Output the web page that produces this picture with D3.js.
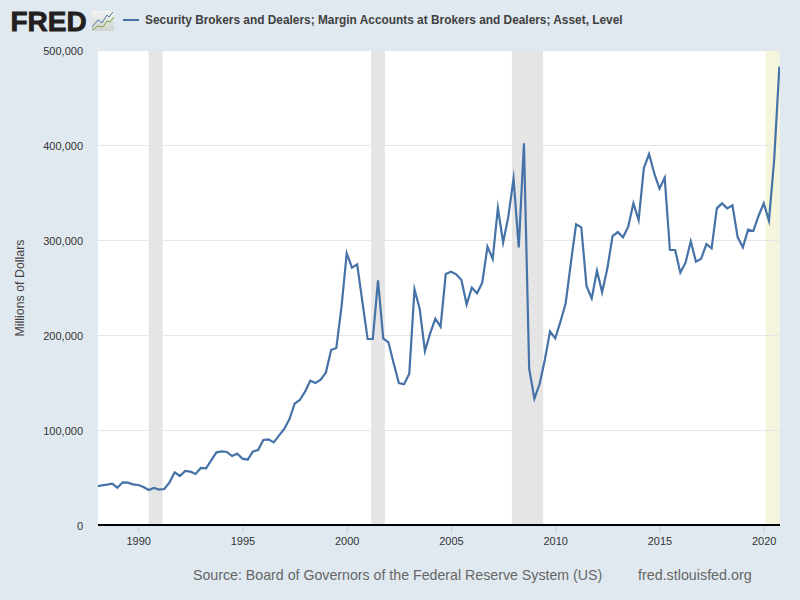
<!DOCTYPE html>
<html><head><meta charset="utf-8">
<script src="https://cdnjs.cloudflare.com/ajax/libs/d3/7.8.5/d3.min.js"></script>
<style>html,body{margin:0;padding:0;background:#e1e9f0}svg{display:block}text{font-family:"Liberation Sans",Arial,sans-serif}</style>
</head><body><svg id="c" width="800" height="600"></svg>
<script>
const firstYear = 1988;
const stepYears = 0.25;
const marginValues = [40700,41750,42450,43500,39300,44900,44560,42800,42100,40000,36840,38950,37190,37900,44900,55440,51580,56840,56140,53680,60000,59650,68070,76490,77540,76840,72630,75090,69820,68770,77540,78950,89470,90180,87020,94030,101050,111230,127720,131580,140350,151930,149470,153000,160500,184200,186300,229800,285950,270870,274380,235080,195780,195780,257540,196490,192280,170170,149470,148070,159290,248070,227360,183150,201750,217190,208770,264200,266660,263850,257890,232280,249820,243860,255080,292970,279990,333670,297180,324550,364550,292280,401750,164550,132980,148420,173680,203860,196490,214000,233330,276000,316480,313320,251570,238590,267710,244900,270170,304200,308410,302800,314030,338590,321040,375780,390520,370170,354030,365610,289470,289470,265610,276130,298590,277190,280340,295780,291220,333330,338590,333330,336480,302800,292280,310870,309460,325260,338590,320340,384200,482450];
const recessionStart = [1990.5, 2001.17, 2007.92];
const recessionEnd = [1991.17, 2001.83, 2009.42];
const covidStart = [2020.08];
const covidEnd = [2020.78];
const yearTicks = [1990,1995,2000,2005,2010,2015,2020];
const valueTicks = [0,100000,200000,300000,400000,500000];
const seriesTitle = "Security Brokers and Dealers; Margin Accounts at Brokers and Dealers; Asset, Level";
const yTitle = "Millions of Dollars";
const sourceText = "Source: Board of Governors of the Federal Reserve System (US)";
const siteText = "fred.stlouisfed.org";

const W=800,H=600,pL=98,pR=780,pT=50,pB=525;
const svg=d3.select("#c");
svg.append("rect").attr("width",W).attr("height",H).attr("fill","#e1e9f0");
svg.append("rect").attr("x",pL).attr("y",pT).attr("width",pR-pL).attr("height",pB-pT).attr("fill","#fff");
const x=d3.scaleLinear().domain([1988.07,2020.78]).range([pL,pR]);
const y=d3.scaleLinear().domain([0,500000]).range([pB,pT]);
const defs=svg.append("defs");
defs.append("clipPath").attr("id","plot").append("rect").attr("x",pL).attr("y",pT-5).attr("width",pR-pL).attr("height",pB-pT+5);
const grad=defs.append("linearGradient").attr("id","ic").attr("x1",0).attr("y1",0).attr("x2",0).attr("y2",1);
grad.append("stop").attr("offset","0%").attr("stop-color","#f4f4f2");
grad.append("stop").attr("offset","100%").attr("stop-color","#cfd2cf");

// recessions
svg.selectAll("rect.rec").data(recessionStart).join("rect").attr("class","rec")
  .attr("x",d=>x(d)).attr("y",pT).attr("height",pB-pT)
  .attr("width",(d,i)=>x(recessionEnd[i])-x(d)).attr("fill","#e5e5e5");
svg.selectAll("rect.cov").data(covidStart).join("rect").attr("class","cov")
  .attr("x",d=>x(d)).attr("y",pT).attr("height",pB-pT)
  .attr("width",(d,i)=>x(covidEnd[i])-x(d)).attr("fill","#f5f4dc");

// grid
svg.selectAll("line.g").data(valueTicks.filter(v=>v>0)).join("line").attr("class","g")
  .attr("x1",pL).attr("x2",pR).attr("y1",d=>Math.round(y(d))+.5).attr("y2",d=>Math.round(y(d))+.5)
  .attr("stroke","#e6e6e6").attr("stroke-width",1);

// axes
const yAxis=d3.axisLeft(y).tickValues(valueTicks).tickFormat(d3.format(",")).tickSize(0).tickPadding(15);
const ya=svg.append("g").attr("transform",`translate(${pL},0)`).call(yAxis);
ya.select(".domain").remove();
ya.selectAll("text").attr("font-size",11).attr("y",0.6).attr("fill","#333").style("font-family",'"Liberation Sans",Arial,sans-serif');

const xAxis=d3.axisBottom(x).tickValues(yearTicks).tickFormat(d3.format("d")).tickSize(8).tickPadding(4);
const xa=svg.append("g").attr("transform",`translate(0,${pB})`).call(xAxis);
xa.select(".domain").remove();
xa.selectAll("line").attr("stroke","#c0d0e0");
xa.selectAll("text").attr("font-size",11).attr("fill","#333").style("font-family",'"Liberation Sans",Arial,sans-serif');
svg.append("line").attr("x1",pL).attr("x2",pR).attr("y1",pB).attr("y2",pB).attr("stroke","#000").attr("stroke-width",2);

// series
const line=d3.line().x((d,i)=>x(firstYear+i*stepYears)).y(d=>y(d));
svg.append("path").datum(marginValues).attr("clip-path","url(#plot)").attr("d",line)
  .attr("fill","none").attr("stroke","#4572a7").attr("stroke-width",2.2).attr("stroke-linejoin","miter").attr("stroke-miterlimit",10);

// logo
svg.append("text").attr("x",10.5).attr("y",30.6).attr("font-size",28).attr("font-weight",700).attr("fill","#231f20")
  .attr("stroke","#231f20").attr("stroke-width",0.8).text("FRED");
svg.append("rect").attr("x",92).attr("y",11).attr("width",22).attr("height",20).attr("rx",2).attr("fill","url(#ic)");
const logoLine=d3.line();
svg.append("path").attr("d",logoLine([[92,27],[98,20],[102,23],[107,15],[109,17],[113,12]])).attr("fill","none").attr("stroke","#4c78a8").attr("stroke-width",1);
svg.append("path").attr("d",logoLine([[92,30],[98,26],[103,27],[107,21],[110,22],[114,17]])).attr("fill","none").attr("stroke","#7aa13d").attr("stroke-width",1);

// legend
svg.append("line").attr("x1",123).attr("x2",139).attr("y1",20).attr("y2",20).attr("stroke","#4572a7").attr("stroke-width",2);
svg.append("text").attr("x",145).attr("y",24).attr("font-size",11.88).attr("font-weight",700).attr("fill","#404040").text(seriesTitle);

// titles
svg.append("text").attr("transform","translate(24,288) rotate(-90)").attr("text-anchor","middle").attr("font-size",12.4).attr("fill","#404040").text(yTitle);
svg.append("text").attr("x",193).attr("y",580).attr("font-size",14.2).attr("fill","#666").text(sourceText);
svg.append("text").attr("x",638).attr("y",580).attr("font-size",14.3).attr("fill","#666").text(siteText);
</script></body></html>
